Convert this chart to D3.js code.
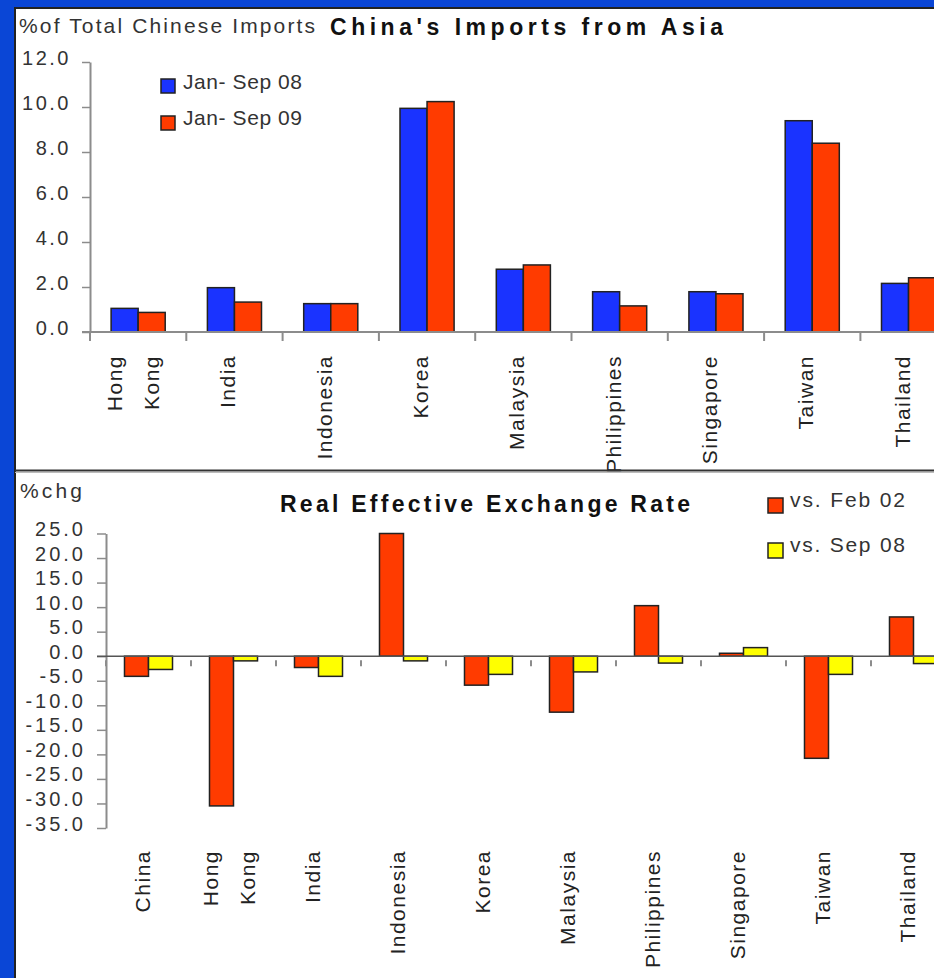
<!DOCTYPE html>
<html>
<head>
<meta charset="utf-8">
<script src="https://cdn.jsdelivr.net/npm/d3@7"></script>
<style>
  html, body { margin: 0; padding: 0; background: #0a46d6; }
  svg { display: block; font-family: "Liberation Sans", Arial, sans-serif; }
</style>
</head>
<body>
<div id="chart"></div>
<script>
// top panel: share of Chinese imports
const importCountries = ["Hong Kong", "India", "Indonesia", "Korea", "Malaysia", "Philippines", "Singapore", "Taiwan", "Thailand"];
const importsSep08 = [1.05, 1.97, 1.26, 9.94, 2.79, 1.79, 1.79, 9.39, 2.16];
const importsSep09 = [0.87, 1.33, 1.26, 10.24, 2.98, 1.16, 1.70, 8.39, 2.41];
const importTicks = [0, 2, 4, 6, 8, 10, 12];

// bottom panel: real effective exchange rate, %chg
const reerCountries = ["China", "Hong Kong", "India", "Indonesia", "Korea", "Malaysia", "Philippines", "Singapore", "Taiwan", "Thailand"];
const reerVsFeb02 = [-4.1, -30.5, -2.3, 25.0, -5.9, -11.4, 10.3, 0.6, -20.8, 8.0];
const reerVsSep08 = [-2.7, -0.95, -4.1, -0.95, -3.7, -3.2, -1.4, 1.75, -3.7, -1.5];
const reerTicks = [25, 20, 15, 10, 5, 0, -5, -10, -15, -20, -25, -30, -35];

const W = 934, H = 978;
const blue = "#1a33ff", red = "#ff3b00", yellow = "#ffff00";
const axisGrey = "#8c8c8c", textGrey = "#333";

const svg = d3.select("#chart")
  .append("svg")
  .attr("width", W)
  .attr("height", H);

// blue frame + white sheet
svg.append("rect").attr("width", W).attr("height", H).attr("fill", "#0a46d6");
svg.append("rect")
  .attr("x", 15).attr("y", 8)
  .attr("width", W).attr("height", H)
  .attr("fill", "white")
  .attr("stroke", "#222")
  .attr("stroke-width", 2);

function fmt(v) {
  return (v < 0 ? "-" : "") + Math.abs(v).toFixed(1);
}

function yAxis(g, scale, ticks, tickLen, pad, spacing) {
  g.call(d3.axisLeft(scale).tickValues(ticks).tickSize(tickLen).tickSizeOuter(0).tickPadding(pad).tickFormat(fmt));
  g.select(".domain").attr("stroke", axisGrey).attr("stroke-width", 2);
  g.selectAll(".tick line").attr("stroke", axisGrey).attr("stroke-width", 1.5);
  g.selectAll(".tick text")
    .attr("dy", "0.1em")
    .attr("fill", textGrey)
    .style("font-family", "'Liberation Sans', Arial, sans-serif")
    .style("font-size", "20px")
    .style("letter-spacing", spacing + "px");
}

function bars(g, x, sub, y, series, colors) {
  series.forEach((vals, si) => {
    g.append("g")
      .selectAll("rect")
      .data(vals)
      .enter()
      .append("rect")
      .attr("x", (d, i) => x(x.domain()[i]) + sub(si))
      .attr("y", d => Math.min(y(d), y(0)))
      .attr("width", sub.bandwidth())
      .attr("height", d => Math.abs(y(d) - y(0)))
      .attr("fill", colors[si])
      .attr("stroke", "#222")
      .attr("stroke-width", 1.5);
  });
}

function catLabels(g, x, yTop, shift) {
  const lab = g.append("g")
    .selectAll("text")
    .data(x.domain())
    .enter()
    .append("text")
    .attr("transform", d => `translate(${x(d) + x.bandwidth() / 2 + shift},${yTop}) rotate(-90)`)
    .attr("text-anchor", "end")
    .attr("fill", "#222")
    .style("font-size", "21px")
    .style("letter-spacing", "1.5px");
  lab.each(function(d) {
    const words = d.split(" ");
    const t = d3.select(this);
    if (words.length === 1) {
      t.text(d);
    } else {
      t.append("tspan").attr("x", 0).attr("y", -17).text(words[0]);
      t.append("tspan").attr("x", 0).attr("y", 20).text(words[1]);
    }
  });
}

function xTicks(g, x, y0, gap, len) {
  const edges = x.domain().map(d => x(d)).concat([x(x.domain()[x.domain().length - 1]) + x.step()]);
  g.append("g")
    .selectAll("line")
    .data(edges)
    .enter()
    .append("line")
    .attr("x1", d => d).attr("x2", d => d)
    .attr("y1", y0 + gap).attr("y2", y0 + gap + len)
    .attr("stroke", axisGrey)
    .attr("stroke-width", 2);
}

// ---------- top chart ----------
const topChart = svg.append("g");

const y1 = d3.scaleLinear().domain([0, 12]).range([332, 62]);
const x1 = d3.scaleBand().domain(importCountries).range([90, 90 + 96.3 * importCountries.length]);
const s1 = d3.scaleBand().domain([0, 1]).range([0, x1.bandwidth()]).paddingOuter(0.78);

topChart.append("text")
  .attr("x", 19).attr("y", 33)
  .attr("fill", textGrey)
  .attr("textLength", 296)
  .attr("lengthAdjust", "spacing")
  .style("font-size", "21px")
  .text("%of Total Chinese Imports");

topChart.append("text")
  .attr("x", 330).attr("y", 35)
  .attr("fill", "#111")
  .attr("textLength", 393)
  .attr("lengthAdjust", "spacing")
  .style("font-size", "23px")
  .style("font-weight", "bold")
  .text("China's Imports from Asia");

yAxis(topChart.append("g").attr("transform", "translate(90,0)"), y1, importTicks, 8, 11, 2.5);

bars(topChart, x1, s1, y1, [importsSep08, importsSep09], [blue, red]);

topChart.append("line")
  .attr("x1", 82).attr("x2", W)
  .attr("y1", y1(0)).attr("y2", y1(0))
  .attr("stroke", axisGrey).attr("stroke-width", 2);
xTicks(topChart, x1, y1(0), 1, 8);

catLabels(topChart, x1, 355, 1);

// legend
const leg1 = [["Jan- Sep 08", blue], ["Jan- Sep 09", red]];
leg1.forEach((l, i) => {
  topChart.append("rect")
    .attr("x", 161).attr("y", 79 + i * 37)
    .attr("width", 14).attr("height", 14)
    .attr("fill", l[1]).attr("stroke", "#222").attr("stroke-width", 1.5);
  topChart.append("text")
    .attr("x", 183).attr("y", 89 + i * 36)
    .attr("fill", textGrey)
    .attr("textLength", 119)
    .attr("lengthAdjust", "spacing")
    .style("font-size", "21px")
    .text(l[0]);
});

// ---------- bottom chart ----------
const botChart = svg.append("g");

const y2 = d3.scaleLinear().domain([-35, 25]).range([828, 533.5]);
const x2 = d3.scaleBand().domain(reerCountries).range([106, 106 + 85 * reerCountries.length]);
const s2 = d3.scaleBand().domain([0, 1]).range([0, x2.bandwidth()]).paddingOuter(0.77);

botChart.append("text")
  .attr("x", 20).attr("y", 498)
  .attr("fill", textGrey)
  .attr("textLength", 62)
  .attr("lengthAdjust", "spacing")
  .style("font-size", "21px")
  .text("%chg");

botChart.append("text")
  .attr("x", 280).attr("y", 512)
  .attr("fill", "#111")
  .attr("textLength", 410)
  .attr("lengthAdjust", "spacing")
  .style("font-size", "23px")
  .style("font-weight", "bold")
  .text("Real Effective Exchange Rate");

yAxis(botChart.append("g").attr("transform", "translate(106,0)"), y2, reerTicks, 9, 11, 3);

bars(botChart, x2, s2, y2, [reerVsFeb02, reerVsSep08], [red, yellow]);

botChart.append("line")
  .attr("x1", 97).attr("x2", W)
  .attr("y1", y2(0)).attr("y2", y2(0))
  .attr("stroke", "#555").attr("stroke-width", 1.5);
xTicks(botChart, x2, y2(0), 4, 6);

catLabels(botChart, x2, 850, 1);

const leg2 = [["vs. Feb 02", red], ["vs. Sep 08", yellow]];
leg2.forEach((l, i) => {
  botChart.append("rect")
    .attr("x", 768).attr("y", 498 + i * 45)
    .attr("width", 15).attr("height", 15)
    .attr("fill", l[1]).attr("stroke", "#222").attr("stroke-width", 1.5);
  botChart.append("text")
    .attr("x", 790).attr("y", 507 + i * 45)
    .attr("fill", textGrey)
    .attr("textLength", 115)
    .attr("lengthAdjust", "spacing")
    .style("font-size", "21px")
    .text(l[0]);
});

// divider between the two panels
svg.append("line")
  .attr("x1", 15).attr("x2", W)
  .attr("y1", 470.5).attr("y2", 470.5)
  .attr("stroke", "#333").attr("stroke-width", 2);
svg.append("line")
  .attr("x1", 15).attr("x2", W)
  .attr("y1", 472.5).attr("y2", 472.5)
  .attr("stroke", "#bbb").attr("stroke-width", 1);
</script>
</body>
</html>
